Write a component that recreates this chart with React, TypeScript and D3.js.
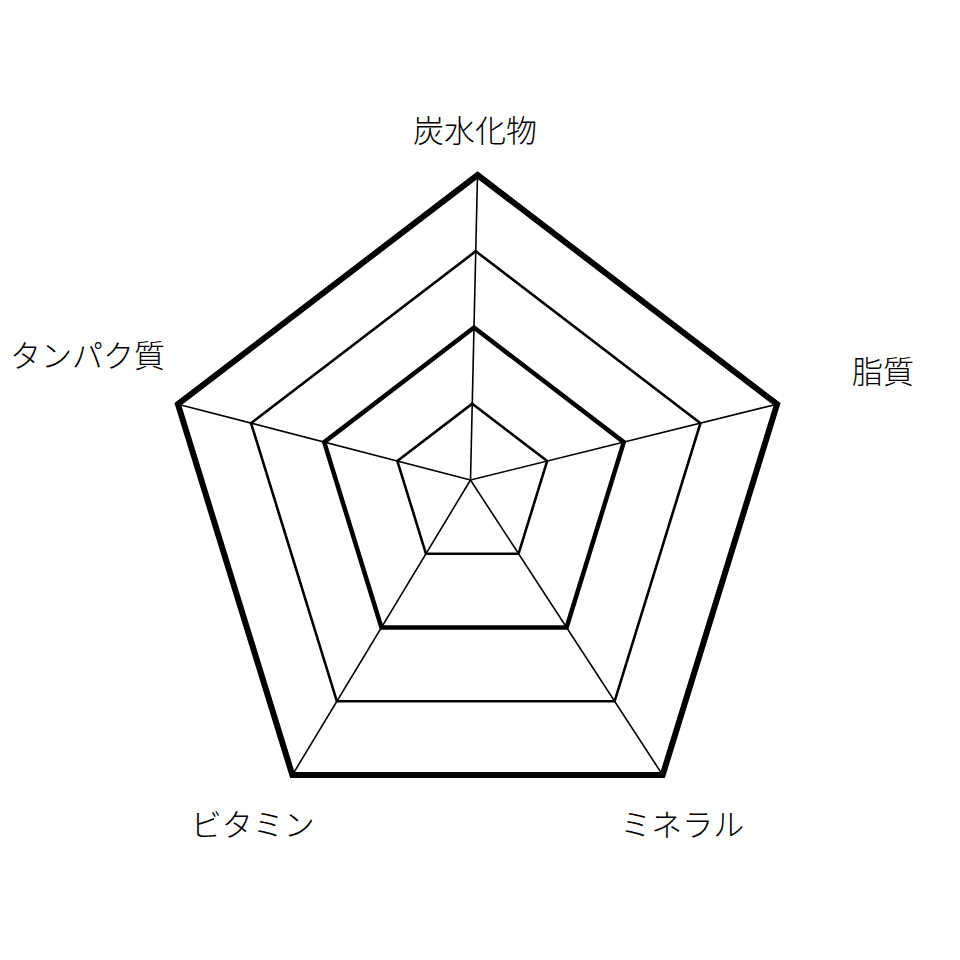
import React from 'react';
import * as d3 from 'd3';

// axes, clockwise from the top
const axisLabels = ['炭水化物', '脂質', 'ミネラル', 'ビタミン', 'タンパク質'];
const levels = [1, 2, 3, 4];
const maxLevel = 4;

// label nudges from each outer vertex (layout only)
const labelOffsets: [number, number][] = [
  [-2.5, -47],
  [106, -35],
  [19.5, 47],
  [-39.5, 47],
  [-90.5, -51],
];

const App: React.FC = () => {
  const width = 960;
  const height = 960;

  // outer pentagon frame
  const cx = 477.5;
  const cy = 506.7;
  const rx = 315;
  const ry = 331.7;
  // point where the spokes meet
  const hub = { x: 470.5, y: 480 };

  const angle = d3
    .scaleLinear()
    .domain([0, axisLabels.length])
    .range([-Math.PI / 2, (3 * Math.PI) / 2]);
  const t = d3.scaleLinear().domain([0, maxLevel]).range([0, 1]);

  const outer = axisLabels.map((_, i) => ({
    x: cx + rx * Math.cos(angle(i)),
    y: cy + ry * Math.sin(angle(i)),
  }));

  const at = (i: number, level: number): [number, number] => {
    const k = t(level);
    return [hub.x + k * (outer[i].x - hub.x), hub.y + k * (outer[i].y - hub.y)];
  };

  const ring = d3.line().curve(d3.curveLinearClosed);

  return (
    <svg
      width={width}
      height={height}
      style={{ position: 'absolute', left: 0, top: 0, background: '#fff' }}
    >
      <g fill="none" stroke="#000" strokeLinejoin="miter">
        {axisLabels.map((_, i) => {
          const [x2, y2] = at(i, maxLevel);
          return <line key={'s' + i} x1={hub.x} y1={hub.y} x2={x2} y2={y2} strokeWidth={1.6} />;
        })}
        {levels.map((lv) => (
          <path
            key={'r' + lv}
            d={ring(axisLabels.map((_, i) => at(i, lv))) || ''}
            strokeWidth={lv === maxLevel ? 6 : lv % 2 === 0 ? 4.5 : 2.6}
          />
        ))}
      </g>
      <g
        fontFamily="'Noto Sans CJK JP', 'Noto Sans CJK SC', sans-serif"
        fontSize={31}
        fontWeight={300}
        fill="#000"
        textAnchor="middle"
        dominantBaseline="central"
      >
        {axisLabels.map((name, i) => (
          <text key={name} x={outer[i].x + labelOffsets[i][0]} y={outer[i].y + labelOffsets[i][1]}>
            {name}
          </text>
        ))}
      </g>
    </svg>
  );
};

export default App;
